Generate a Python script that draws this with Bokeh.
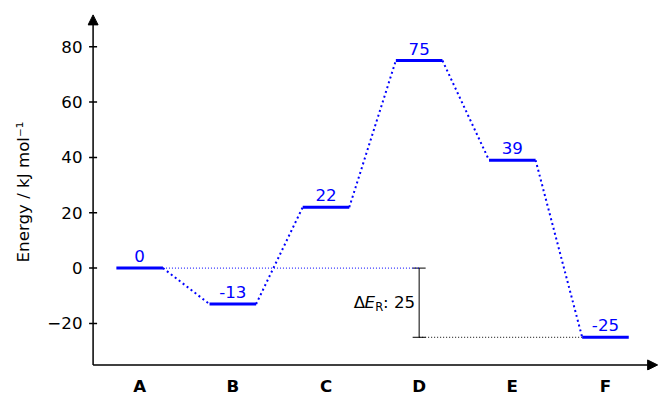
from bokeh.plotting import figure
from bokeh.models import (ColumnDataSource, Range1d, FixedTicker, Arrow, NormalHead,
                          Whisker, TeeHead)
from bokeh.core.properties import value
from bokeh.embed import file_html
from bokeh.resources import INLINE

categories = ["A", "B", "C", "D", "E", "F"]
energies = [0, -13, 22, 75, 39, -25]
y_ticks = [-20, 0, 20, 40, 60, 80]
y_tick_labels = ["\u221220", "0", "20", "40", "60", "80"]
ref_index = 3          # where the ΔE_R bar is drawn
delta_label = "25"

FONT = "DejaVu Sans"
FS = "16.67px"
HALF = 0.25
X0, X1 = -0.5, 5.56     # axis extents
Y0, Y1 = -35, 91.5
xs = list(range(len(categories)))

p = figure(width=663, height=400, output_backend="svg", toolbar_location=None,
           x_range=Range1d(-0.56, 5.58), y_range=Range1d(-37, 92),
           min_border_left=87, min_border_right=4, min_border_top=13, min_border_bottom=30)
p.outline_line_color = None
p.grid.visible = False
p.background_fill_color = "white"

# axes (labels only; lines and ticks drawn as glyphs at the true axis position)
p.xaxis.ticker = FixedTicker(ticks=xs)
p.xaxis.major_label_overrides = {i: c for i, c in zip(xs, categories)}
p.xaxis.major_tick_line_color = None
p.xaxis.major_tick_out = 0
p.xaxis.major_tick_in = 0
p.xaxis.minor_tick_line_color = None
p.xaxis.major_label_text_font = FONT
p.xaxis.major_label_text_font_size = FS
p.xaxis.major_label_text_font_style = "bold"
p.xaxis.major_label_text_color = "black"
p.xaxis.major_label_standoff = 6
p.xaxis.axis_line_color = None

p.yaxis.ticker = FixedTicker(ticks=y_ticks)
p.yaxis.major_label_overrides = {t: l for t, l in zip(y_ticks, y_tick_labels)}
p.yaxis.major_tick_line_color = None
p.yaxis.major_tick_out = 0
p.yaxis.major_tick_in = 0
p.yaxis.minor_tick_line_color = None
p.yaxis.major_label_text_font = FONT
p.yaxis.major_label_text_font_size = FS
p.yaxis.major_label_text_color = "black"
p.yaxis.major_label_standoff = 5
p.yaxis.axis_line_color = None
p.yaxis.axis_label = "Energy / kJ mol\u207b\u00b9"
p.yaxis.axis_label_text_font = FONT
p.yaxis.axis_label_text_font_size = FS
p.yaxis.axis_label_text_font_style = "normal"
p.yaxis.axis_label_text_color = "black"
p.yaxis.axis_label_standoff = 11

# axis lines with arrowheads
p.add_layout(Arrow(end=NormalHead(size=10, fill_color="black", line_color="black"),
                   x_start=X0, y_start=Y0, x_end=X1, y_end=Y0,
                   line_color="black", line_width=1.5))
p.add_layout(Arrow(end=NormalHead(size=10, fill_color="black", line_color="black"),
                   x_start=X0, y_start=Y0, x_end=X0, y_end=Y1,
                   line_color="black", line_width=1.5))
# y tick marks
p.scatter(x=[X0] * len(y_ticks), y=y_ticks, marker="dash", size=8,
          line_color="black", line_width=1.5)

# reference lines
p.segment(x0=[HALF], x1=[ref_index], y0=[energies[0]], y1=[energies[0]],
          line_color="blue", line_width=1, line_dash="1 2")
p.segment(x0=[ref_index], x1=[xs[-1] - HALF], y0=[energies[-1]], y1=[energies[-1]],
          line_color="black", line_width=1, line_dash="1 2")

# connectors
p.segment(x0=[x + HALF for x in xs[:-1]], x1=[x + 1 - HALF for x in xs[:-1]],
          y0=energies[:-1], y1=energies[1:],
          line_color="blue", line_width=2, line_dash="2 3")

# levels
p.segment(x0=[x - HALF for x in xs], x1=[x + HALF for x in xs],
          y0=energies, y1=energies, line_color="blue", line_width=3)

# value labels
p.text(x=xs, y=energies, text=[str(e) for e in energies], text_color="blue",
       text_font=value(FONT), text_font_size=FS, text_align="center",
       text_baseline="middle", y_offset=-12)

# ΔE_R whisker
wsrc = ColumnDataSource(dict(base=[ref_index], lower=[energies[-1]], upper=[energies[0]]))
p.add_layout(Whisker(source=wsrc, base="base", lower="lower", upper="upper",
                     dimension="height", line_color="black", line_width=1,
                     upper_head=TeeHead(size=13, line_color="black", line_width=1),
                     lower_head=TeeHead(size=13, line_color="black", line_width=1)))

ymid = (energies[0] + energies[-1]) / 2
p.text(x=[ref_index], y=[ymid], text=[": " + delta_label], text_font=value(FONT),
       text_font_size=FS, text_align="right", text_baseline="middle",
       x_offset=-4, text_color="black")
p.text(x=[ref_index], y=[ymid], text=["R"], text_font=value(FONT),
       text_font_size="11.5px", text_align="right", text_baseline="middle",
       x_offset=-36, y_offset=4, text_color="black")
p.text(x=[ref_index], y=[ymid], text=["E"], text_font=value(FONT),
       text_font_size=FS, text_font_style="italic", text_align="right",
       text_baseline="middle", x_offset=-44, text_color="black")
p.text(x=[ref_index], y=[ymid], text=["\u0394"], text_font=value(FONT),
       text_font_size=FS, text_align="right", text_baseline="middle",
       x_offset=-54, text_color="black")

open("out.html", "w").write(file_html(p, INLINE))
